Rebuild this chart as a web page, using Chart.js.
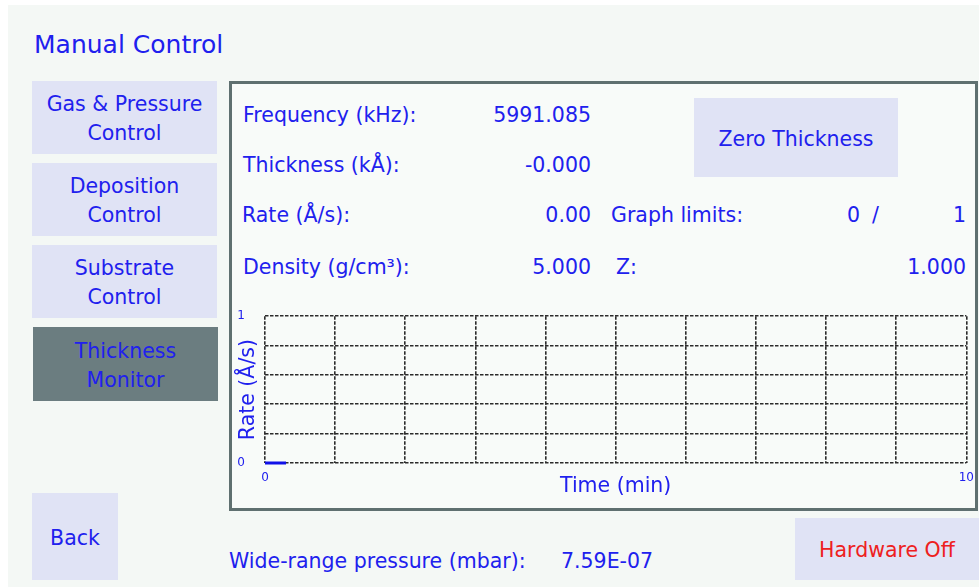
<!DOCTYPE html>
<html lang="en">
<head>
    <meta charset="UTF-8">
    <title>Manual Control</title>
    <script src="https://cdn.jsdelivr.net/npm/chart.js"></script>
    <style>
        body {
            margin: 0;
            width: 979px;
            height: 587px;
            background: #ffffff;
            font-family: "DejaVu Sans", sans-serif;
            color: #2020ee;
            overflow: hidden;
        }
        #app {
            position: absolute;
            left: 8px; top: 5px; right: 0; bottom: 0;
            background: #f4f8f5;
        }
        .btn {
            position: absolute;
            background: #e0e3f5;
            display: flex;
            align-items: center;
            justify-content: center;
            text-align: center;
            font-size: 20.5px;
            line-height: 29px;
            box-sizing: border-box;
            padding-top: 3px;
        }
        .txt { position: absolute; font-size: 20.5px; line-height: 24px; white-space: nowrap; }
        .r { text-align: right; }
        #frame {
            position: absolute;
            left: 229px; top: 81px;
            width: 743px; height: 424px;
            border: 3px solid #5f7070;
            background: #f8fbf9;
        }
        #chart-box {
            position: absolute;
            left: 231px; top: 289px;
            width: 751px; height: 216px;
        }
    </style>
</head>
<body>
    <div id="app"></div>
    <div class="txt" style="left:34px; top:31px; font-size:25px; line-height:28px;">Manual Control</div>

    <div class="btn" style="left:32px; top:81px; width:185px; height:73px;">Gas &amp; Pressure<br>Control</div>
    <div class="btn" style="left:32px; top:163px; width:185px; height:73px;">Deposition<br>Control</div>
    <div class="btn" style="left:32px; top:245px; width:185px; height:73px;">Substrate<br>Control</div>
    <div class="btn" style="left:33px; top:327px; width:185px; height:74px; background:#6b7d80;">Thickness<br>Monitor</div>
    <div class="btn" style="left:32px; top:493px; width:86px; height:87px;">Back</div>

    <div id="frame"></div>

    <div class="txt" style="left:243px; top:103px;">Frequency (kHz):</div>
    <div class="txt r" style="left:450px; width:141px; top:103px;">5991.085</div>
    <div class="txt" style="left:243px; top:153px;">Thickness (kÅ):</div>
    <div class="txt r" style="left:450px; width:141px; top:153px;">-0.000</div>
    <div class="txt" style="left:242px; top:203px;">Rate (Å/s):</div>
    <div class="txt r" style="left:450px; width:141px; top:203px;">0.00</div>
    <div class="txt" style="left:243px; top:255px;">Density (g/cm³):</div>
    <div class="txt r" style="left:450px; width:141px; top:255px;">5.000</div>

    <div class="btn" style="left:694px; top:98px; width:204px; height:79px;">Zero Thickness</div>
    <div class="txt" style="left:611px; top:203px;">Graph limits:</div>
    <div class="txt" style="left:847px; top:203px;">0</div>
    <div class="txt" style="left:872px; top:203px;">/</div>
    <div class="txt r" style="left:900px; width:66px; top:203px;">1</div>
    <div class="txt" style="left:616px; top:255px;">Z:</div>
    <div class="txt r" style="left:850px; width:116px; top:255px;">1.000</div>

    <div id="chart-box"><canvas id="chart"></canvas></div>

    <div class="txt" style="left:229px; top:549px;">Wide-range pressure (mbar):</div>
    <div class="txt" style="left:561px; top:549px;">7.59E-07</div>
    <div class="btn" style="left:795px; top:518px; width:184px; height:62px; color:#ee2020;">Hardware Off</div>

    <script>
        // rate trace (Å/s) against time (min)
        const timeValues = [0, 0.1, 0.2, 0.3];
        const rateValues = [0, 0, 0, 0];
        const xTickLabels = ['0', '10'];
        const yTickLabels = ['0', '1'];

        const blue = '#2020ee';

        // titles sit in the same band as the tick labels, so they are drawn here
        const axisTitles = {
            id: 'axisTitles',
            afterDraw(chart) {
                const ctx = chart.ctx;
                const area = chart.chartArea;
                ctx.save();
                ctx.fillStyle = blue;
                ctx.font = '20.5px "DejaVu Sans"';
                ctx.textAlign = 'center';
                ctx.textBaseline = 'middle';
                ctx.fillText('Time (min)', (area.left + area.right) / 2, area.bottom + 24);
                ctx.translate(area.left - 16, (area.top + area.bottom) / 2);
                ctx.rotate(-Math.PI / 2);
                ctx.fillText('Rate (Å/s)', 0, 0);
                ctx.restore();
            }
        };

        const ctx = document.getElementById('chart').getContext('2d');
        new Chart(ctx, {
            type: 'line',
            data: {
                labels: timeValues,
                datasets: [{
                    data: rateValues,
                    borderColor: '#1010e8',
                    borderWidth: 3,
                    pointRadius: 0,
                    tension: 0,
                    clip: false
                }]
            },
            options: {
                responsive: true,
                maintainAspectRatio: false,
                animation: false,
                layout: { padding: { left: 0, right: 3, top: 5, bottom: 0 } },
                plugins: {
                    legend: { display: false },
                    tooltip: { enabled: false }
                },
                scales: {
                    x: {
                        type: 'linear',
                        min: 0,
                        max: 10,
                        afterFit: (scale) => { scale.height = 42; },
                        ticks: {
                            stepSize: 1,
                            color: blue,
                            font: { size: 12, family: 'DejaVu Sans' },
                            padding: 8,
                            maxRotation: 0,
                            autoSkip: false,
                            callback: (v) => (v === 0 ? xTickLabels[0] : v === 10 ? xTickLabels[1] : '')
                        },
                        grid: { color: '#2b2b2b', lineWidth: 1.6, drawTicks: false },
                        border: { display: false, dash: [3.5, 1.5] }
                    },
                    y: {
                        min: 0,
                        max: 1,
                        afterFit: (scale) => { scale.width = 34; },
                        ticks: {
                            stepSize: 0.2,
                            color: blue,
                            font: { size: 12, family: 'DejaVu Sans' },
                            padding: 20,
                            autoSkip: false,
                            callback: (v) => (v === 0 ? yTickLabels[0] : v === 1 ? yTickLabels[1] : '')
                        },
                        grid: { color: '#2b2b2b', lineWidth: 1.6, drawTicks: false },
                        border: { display: false, dash: [3.5, 1.5] }
                    }
                }
            },
            plugins: [axisTitles]
        });
    </script>
</body>
</html>
